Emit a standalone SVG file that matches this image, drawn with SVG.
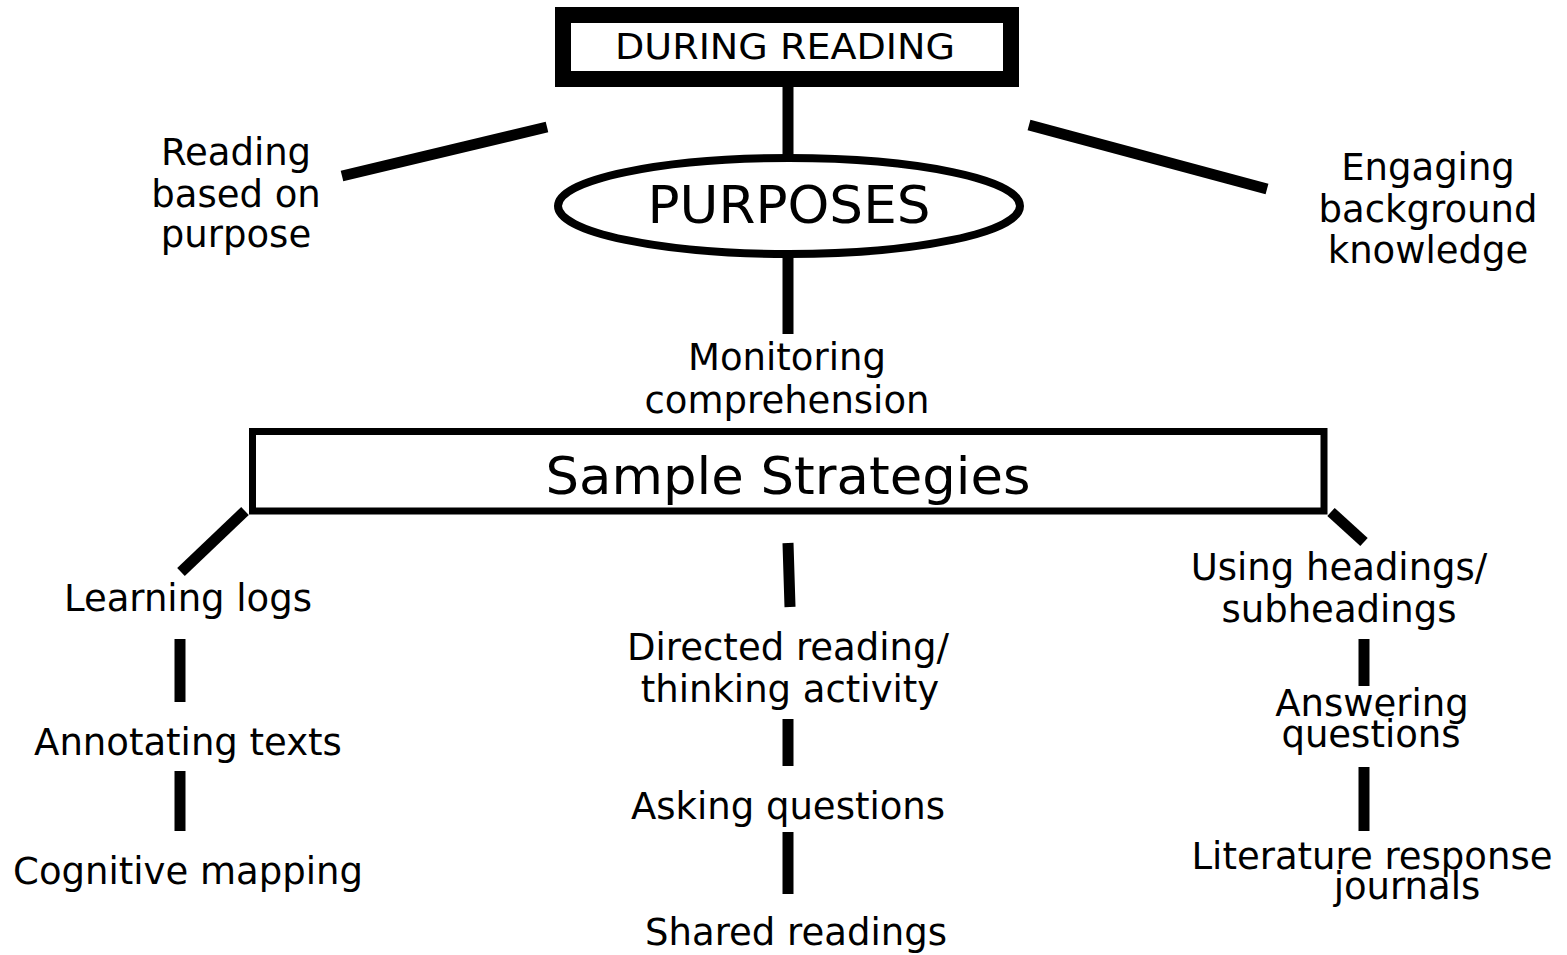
<svg xmlns="http://www.w3.org/2000/svg" width="1567" height="955" viewBox="0 0 1567 955">
<style>
  text { font-family: "DejaVu Sans", Verdana, sans-serif; fill: #000; text-anchor: middle; }
  .t { font-size: 37px; }
  .big { font-size: 52px; }
  .con line { stroke: #000; stroke-width: 11; }
</style>
<rect width="1567" height="955" fill="#fff"/>
<g class="con" id="connectors">
  <line x1="788" y1="86" x2="788" y2="158"/>
  <line x1="788" y1="256" x2="788" y2="334"/>
  <line x1="342" y1="176" x2="547" y2="127"/>
  <line x1="1029" y1="125" x2="1267" y2="189"/>
  <line x1="245" y1="511" x2="181" y2="572"/>
  <line x1="180" y1="639" x2="180" y2="702"/>
  <line x1="180" y1="771" x2="180" y2="831"/>
  <line x1="788" y1="543" x2="790" y2="607"/>
  <line x1="788" y1="719" x2="788" y2="766"/>
  <line x1="788" y1="832" x2="788" y2="894"/>
  <line x1="1331" y1="512" x2="1364" y2="542"/>
  <line x1="1364" y1="639" x2="1364" y2="686"/>
  <line x1="1364" y1="767" x2="1364" y2="831"/>
</g>
<g id="during-reading">
  <rect x="563" y="15" width="448" height="64" fill="#fff" stroke="#000" stroke-width="16"/>
  <text x="785" y="59" font-size="36" textLength="340" lengthAdjust="spacingAndGlyphs">DURING READING</text>
</g>
<g id="purposes">
  <ellipse cx="789" cy="206" rx="231" ry="48" fill="#fff" stroke="#000" stroke-width="8"/>
  <text class="big" x="789" y="223" textLength="283" lengthAdjust="spacingAndGlyphs">PURPOSES</text>
</g>
<g id="reading-based">
  <text class="t" x="236" y="165">Reading</text>
  <text class="t" x="236" y="207">based on</text>
  <text class="t" x="236" y="247">purpose</text>
</g>
<g id="engaging">
  <text class="t" x="1428" y="180">Engaging</text>
  <text class="t" x="1428" y="222">background</text>
  <text class="t" x="1428" y="263">knowledge</text>
</g>
<g id="monitoring">
  <text class="t" x="787" y="370">Monitoring</text>
  <text class="t" x="787" y="413">comprehension</text>
</g>
<g id="sample-strategies">
  <rect x="252.5" y="431.5" width="1071.5" height="79.5" fill="#fff" stroke="#000" stroke-width="7"/>
  <text class="big" x="788" y="494" textLength="485" lengthAdjust="spacingAndGlyphs">Sample Strategies</text>
</g>
<g id="learning-logs"><text class="t" x="188" y="611">Learning logs</text></g>
<g id="annotating"><text class="t" x="188" y="755">Annotating texts</text></g>
<g id="cognitive"><text class="t" x="188" y="884">Cognitive mapping</text></g>
<g id="directed">
  <text class="t" x="788" y="660">Directed reading/</text>
  <text class="t" x="790" y="702">thinking activity</text>
</g>
<g id="asking"><text class="t" x="788" y="819">Asking questions</text></g>
<g id="shared"><text class="t" x="796" y="945">Shared readings</text></g>
<g id="headings">
  <text class="t" x="1339" y="580">Using headings/</text>
  <text class="t" x="1339" y="622">subheadings</text>
</g>
<g id="answering">
  <text class="t" x="1372" y="716">Answering</text>
  <text class="t" x="1371" y="747">questions</text>
</g>
<g id="literature">
  <text class="t" x="1372" y="869">Literature response</text>
  <text class="t" x="1407" y="899">journals</text>
</g>
</svg>
